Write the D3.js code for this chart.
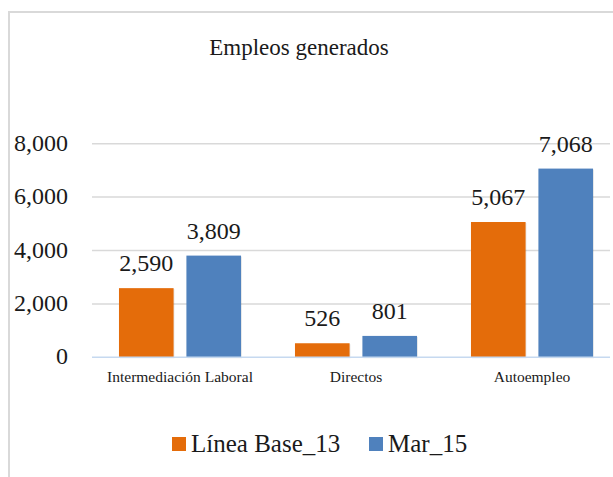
<!DOCTYPE html>
<html>
<head>
<meta charset="utf-8">
<script src="https://cdn.jsdelivr.net/npm/d3@7"></script>
<style>
  body { margin: 0; background: #fff; }
</style>
</head>
<body>
<div id="chart"></div>
<script>
// chart data
const categories = ["Intermediación Laboral", "Directos", "Autoempleo"];
const seriesNames = ["Línea Base_13", "Mar_15"];
const baseValues = [2590, 526, 5067];
const marValues = [3809, 801, 7068];
const yTicks = [0, 2000, 4000, 6000, 8000];
const colors = ["#E46C0A", "#4F81BD"];

const width = 613, height = 477;
const serif = "'Liberation Serif', 'Times New Roman', serif";

const svg = d3.select("#chart").append("svg")
    .attr("width", width)
    .attr("height", height)
    .attr("font-family", serif);

// outer frame (runs off the right and bottom edge)
svg.append("rect")
    .attr("x", 9).attr("y", 12)
    .attr("width", 700).attr("height", 600)
    .attr("fill", "none")
    .attr("stroke", "#d9d9d9")
    .attr("stroke-width", 2);

// title
svg.append("text")
    .attr("x", 299).attr("y", 55)
    .attr("text-anchor", "middle")
    .style("font-family", serif)
    .style("font-size", "23px")
    .attr("fill", "#1a1a1a")
    .text("Empleos generados");

// scales
const x0 = d3.scaleBand().domain(categories).range([92, 620]).padding(0);
const x1 = d3.scaleBand().domain(seriesNames).range([0, x0.bandwidth()])
    .paddingInner(0.19).paddingOuter(0.4);
const y = d3.scaleLinear().domain([0, 8000]).range([357.3, 143.7]);

// gridlines
svg.append("g")
    .selectAll("line")
    .data(yTicks.filter(d => d > 0))
    .join("line")
    .attr("x1", 92).attr("x2", 610)
    .attr("y1", d => y(d)).attr("y2", d => y(d))
    .attr("stroke", "#d9d9d9")
    .attr("stroke-width", 1.5);

// y tick labels
svg.append("g")
    .selectAll("text")
    .data(yTicks)
    .join("text")
    .attr("x", 68)
    .attr("y", d => y(d) + 7)
    .attr("text-anchor", "end")
    .style("font-family", serif)
    .style("font-size", "24px")
    .attr("fill", "#1a1a1a")
    .text(d3.format(","));

// bars
const rows = categories.map((c, i) => ({ cat: c, vals: [baseValues[i], marValues[i]] }));

const group = svg.append("g")
    .selectAll("g")
    .data(rows)
    .join("g")
    .attr("transform", d => `translate(${x0(d.cat)},0)`);

const pts = d => d.vals.map((v, j) => ({ v, s: seriesNames[j], j }));

group.selectAll("rect.shadow")
    .data(pts)
    .join("rect")
    .attr("class", "shadow")
    .attr("x", d => x1(d.s) + 1)
    .attr("y", d => y(d.v) + 1)
    .attr("width", x1.bandwidth())
    .attr("height", d => y(0) - y(d.v))
    .attr("fill", "#000")
    .attr("opacity", 0.08);

group.selectAll("rect.bar")
    .data(pts)
    .join("rect")
    .attr("class", "bar")
    .attr("x", d => x1(d.s))
    .attr("y", d => y(d.v))
    .attr("width", x1.bandwidth())
    .attr("height", d => y(0) - y(d.v))
    .attr("fill", d => colors[d.j]);

// value labels
group.selectAll("text")
    .data(pts)
    .join("text")
    .attr("x", d => x1(d.s) + x1.bandwidth() / 2)
    .attr("y", d => y(d.v) - 17)
    .attr("text-anchor", "middle")
    .style("font-family", serif)
    .style("font-size", "24px")
    .attr("fill", "#1a1a1a")
    .text(d => d3.format(",")(d.v));

// axis baseline
svg.append("line")
    .attr("x1", 92).attr("x2", 610)
    .attr("y1", y(0)).attr("y2", y(0))
    .attr("stroke", "#c6d9f0")
    .attr("stroke-width", 1.5);

// category labels
svg.append("g")
    .selectAll("text")
    .data(categories)
    .join("text")
    .attr("x", d => x0(d) + x0.bandwidth() / 2)
    .attr("y", 382)
    .attr("text-anchor", "middle")
    .style("font-family", serif)
    .style("font-size", "15.5px")
    .attr("fill", "#1a1a1a")
    .text(d => d);

// legend
const legendX = [172, 369];
const legend = svg.append("g")
    .selectAll("g")
    .data(seriesNames)
    .join("g")
    .attr("transform", (d, i) => `translate(${legendX[i]},437)`);

legend.append("rect")
    .attr("width", 14).attr("height", 14)
    .attr("fill", (d, i) => colors[i]);

legend.append("text")
    .attr("x", 19).attr("y", 15)
    .style("font-family", serif)
    .style("font-size", "25px")
    .attr("fill", "#1a1a1a")
    .text(d => d);
</script>
</body>
</html>
